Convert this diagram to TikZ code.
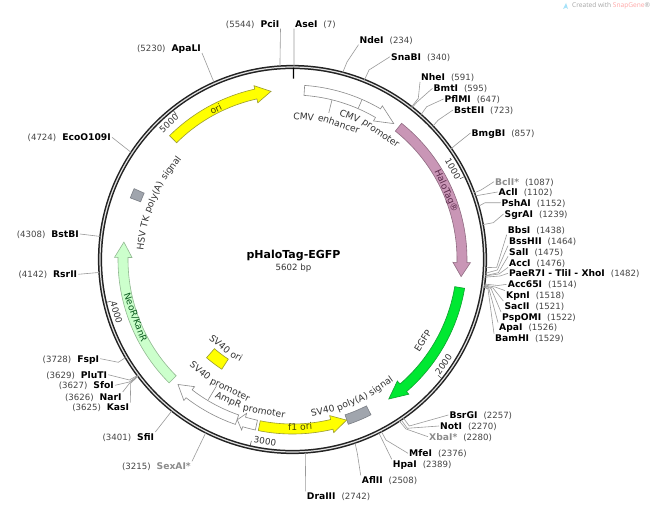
\documentclass[tikz,border=0pt]{standalone}
\usepackage{fontspec}
\setmainfont{DejaVu Sans}
\newfontfamily\sgfont{Open Sans}
\definecolor{ringc}{HTML}{222222}
\definecolor{leadc}{HTML}{9A9A9A}
\definecolor{numc}{HTML}{444444}
\definecolor{grayname}{HTML}{8C8C8C}
\definecolor{ftc}{HTML}{333333}
\definecolor{oriy}{HTML}{FFFF00}
\definecolor{orib}{HTML}{9A9A30}
\definecolor{orit}{HTML}{4A4A08}
\definecolor{halo}{HTML}{C996B6}
\definecolor{halob}{HTML}{8E6A80}
\definecolor{halot}{HTML}{5A2A4A}
\definecolor{egfp}{HTML}{00E832}
\definecolor{egfpb}{HTML}{10A030}
\definecolor{neo}{HTML}{CCFFCC}
\definecolor{neob}{HTML}{90B890}
\definecolor{neot}{HTML}{0A5A1E}
\definecolor{wb}{HTML}{8A8A8A}
\definecolor{polya}{HTML}{A0A5AD}
\definecolor{polyb}{HTML}{7A7E85}
\newcommand\namef{\fontsize{9.2}{11}\selectfont\bfseries}
\newcommand\numf{\fontsize{8.6}{11}\selectfont\mdseries\color{numc}}
\newcommand\featf{\fontsize{9.2}{11}\selectfont}
\newlength\wordw
\newdimen\arcpos
\newcommand\measureword[1]{\settowidth\wordw{\pgfinterruptpicture\featf #1\endpgfinterruptpicture}}
\tikzset{
  ctr/.style={shift={(292.5,259.5)}},
  leader/.style={draw=leadc,line width=0.6pt,line join=round},
  sitelabel/.style={inner sep=1pt,text height=7pt,text depth=0pt},
  ticklabel/.style={inner sep=0pt,font=\fontsize{8.8}{10}\selectfont,text=ftc},
  tickmark/.style={draw=numc,line width=0.5pt},
  feature/.style={line width=0.6pt,line join=miter},
  arcword/.style={inner sep=0pt,anchor=base,font=\featf}
}
% right-hand site: name then number, anchored west
\newcommand\siteR[8][black]{%
  \coordinate (R-#2) at ([ctr]#3/5602*360-90:193.5);
  \node[sitelabel,anchor=west] (L-#2) at (#6,#7) {{\namef\color{#1}#4}\hspace{6pt}{\numf(#5)}};
  \draw[leader] (R-#2) #8;
}
% left-hand site: number then name, anchored east
\newcommand\siteL[8][black]{%
  \coordinate (R-#2) at ([ctr]#3/5602*360-90:193.5);
  \node[sitelabel,anchor=east] (L-#2) at (#6,#7) {{\numf(#5)}\hspace{6pt}{\namef\color{#1}#4}};
  \draw[leader] (R-#2) #8;
}
% block arrow: tail angle, head base, tip (clockwise degrees from top)
\newcommand\blockarrow[5]{%
  \draw[feature,fill=#4,draw=#5]
    plot[domain=#1:#2,samples=40] (\x-90:174.5)
    -- (#2-90:178) -- (#3-90:169.5) -- (#2-90:160.5) -- (#2-90:164.5)
    -- plot[domain=#2:#1,samples=40] (\x-90:164.5) -- cycle;
}
% plain block
\newcommand\blockbox[6]{%
  \draw[feature,fill=#5,draw=#6]
    plot[domain=#1:#2,samples=10] (\x-90:#4)
    -- plot[domain=#2:#1,samples=10] (\x-90:#3) -- cycle;
}
% words set round an arc: id, centre angle, baseline radius, direction (1 clockwise, -1 anticlockwise), word list
\newcommand\arcwords[6][ftc]{%
  \global\arcpos=-3.2pt
  \foreach \w in {#6}{%
    \measureword{\w}%
    \global\advance\arcpos by\wordw
    \global\advance\arcpos by3.2pt
  }%
  \global\arcpos=-0.5\arcpos
  \foreach \w [count=\wi] in {#6}{%
    \measureword{\w}%
    \pgfmathsetmacro\wang{#3+(#5)*(\arcpos+0.5*\wordw)/(#4)*57.29578}%
    \pgfmathsetmacro\wrot{(#5)>0 ? -(\wang) : 180-(\wang)}%
    \node[arcword,text=#1,rotate=\wrot] (#2-\wi) at (\wang-90:#4) {\w};
    \global\advance\arcpos by\wordw
    \global\advance\arcpos by3.2pt
  }%
}
\begin{document}
\begin{tikzpicture}[x=1pt,y=-1pt]
\useasboundingbox (0,0) rectangle (650,508);
\fill[white] (0,0) rectangle (650,508);

% watermark
\fill[cyan!35] (563,9) -- (566,3) -- (568,9) -- (566,7.5) -- cycle;
\node[inner sep=0pt,anchor=west,font=\sgfont\fontsize{6.6}{8}\selectfont] (credit) at (572,6)
  {\textcolor{black!35}{Created with }\textcolor{red!35}{SnapGene}\textcolor{black!35}{®}};

% backbone
\coordinate (C) at (292.5,259.5);
\draw[ringc,line width=4.2pt] (C) circle[radius=192.5pt];
\draw[black!12,line width=1.2pt] (C) circle[radius=192.5pt];

\begin{scope}[ctr]
% origin tick
\draw[black,line width=1.4pt] (0.3-90:181) -- (0.3-90:192);
% scale ticks
\foreach \b in {1000,2000,3000,4000,5000}{
  \draw[tickmark] (\b/5602*360-90:186) -- (\b/5602*360-90:190.5);
}
% features
\blockarrow{-44.8}{-12.5}{-7.3}{oriy}{orib}
\blockarrow{4}{30.3}{36.7}{white}{wb}
\draw[wb,line width=0.6pt] (23.5-90:164.5) -- (23.5-90:174.5);
\draw[wb,line width=0.6pt] (13.9-90:164.5) -- (13.9-90:151);
\blockarrow{38.7}{91}{95.8}{halo}{halob}
\blockarrow{99.5}{139.2}{145.4}{egfp}{egfpb}
\blockbox{153.2}{161.3}{164}{174}{polya}{polyb}
\blockarrow{191.3}{166.6}{161.4}{oriy}{orib}
\blockarrow{192.3}{196.6}{199}{white}{wb}
\blockarrow{199.1}{217.6}{222.5}{white}{wb}
\draw[wb,line width=0.6pt] (211-90:163.5) -- (211-90:148);
\blockbox{212.8}{221.2}{118.5}{130.5}{oriy}{orib}
\blockarrow{225}{270.7}{275.9}{neo}{neob}
\blockbox{290.8}{294.1}{162.5}{173.5}{polya}{polyb}
% feature texts
\arcwords{enh}{14}{140}{1}{CMV,enhancer}
\arcwords{pro}{30.5}{151}{1}{CMV,promoter}
\arcwords[orit]{ori}{-27}{165.5}{1}{ori}
\arcwords[halot]{hal}{66}{165.5}{1}{HaloTag®}
\arcwords{egf}{122}{157}{-1}{EGFP}
\arcwords{pol}{156.6}{157.5}{-1}{SV40,poly(A),signal}
\arcwords[orit]{fon}{177.4}{171}{-1}{f1,ori}
\arcwords{amp}{196.2}{157.5}{-1}{AmpR,promoter}
\arcwords{spr}{210.8}{147.5}{-1}{SV40,promoter}
\arcwords{sor}{216.8}{115}{-1}{SV40,ori}
\arcwords[neot]{neo}{249.8}{170.5}{-1}{NeoR/KanR}
\arcwords{hsv}{292.9}{149}{1}{HSV,TK,poly(A),signal}
\end{scope}

% scale numbers
\node[ticklabel,rotate=-60.6] (t1000) at ([ctr]60.6-90:184) {1000};
\node[ticklabel,rotate=55.2] (t2000) at ([ctr]124.8-90:184) {2000};
\node[ticklabel,rotate=-8.6] (t3000) at ([ctr]188.6-90:184) {3000};
\node[ticklabel,rotate=-73.2] (t4000) at ([ctr]253.2-90:184) {4000};
\node[ticklabel,rotate=42.2] (t5000) at ([ctr]317.8-90:184) {5000};

% title
\node[inner sep=0pt,font=\fontsize{11}{13}\selectfont\bfseries] (title) at (293.5,255.5) {pHaloTag-EGFP};
\node[inner sep=0pt,font=\fontsize{8.6}{10}\selectfont,text=ftc] (size) at (293.5,268) {5602 bp};

% restriction sites
\siteL{pci}{5544}{PciI}{5544}{280.5}{24}{-- (L-pci.south east)}
\siteR{ase}{7}{AseI}{7}{294}{24}{-- (L-ase.south west)}
\siteR{nde}{234}{NdeI}{234}{358.5}{40}{-- (347,62) -- (L-nde.south west)}
\siteR{sna}{340}{SnaBI}{340}{390}{56.7}{-- (369,70) -- (L-sna.west)}
\siteR{nhe}{591}{NheI}{591}{420}{77.3}{-- (418.3,98.3) -- (L-nhe.south west)}
\siteR{bmt}{595}{BmtI}{595}{432.5}{88.3}{-- (417,102) -- (L-bmt.west)}
\siteR{pfl}{647}{PflMI}{647}{443.5}{99}{-- (426.7,106.7) -- (L-pfl.west)}
\siteR{bst}{723}{BstEII}{723}{453}{110}{-- (438.3,120) -- (L-bst.west)}
\siteR{bmg}{857}{BmgBI}{857}{470.5}{133}{-- (456.7,144) -- (L-bmg.west)}
\siteR[grayname]{bcl}{1087}{BclI*}{1087}{494}{181.7}{-- (481,190) -- (L-bcl.west)}
\siteR{acl}{1102}{AclI}{1102}{497.5}{192}{-- (L-acl.west)}
\siteR{psh}{1152}{PshAI}{1152}{500.5}{202.7}{-- (485,202.7) -- (L-psh.west)}
\siteR{sgr}{1239}{SgrAI}{1239}{503.5}{214}{-- (493.3,222.7) -- (L-sgr.west)}
\siteR{bbs}{1438}{BbsI}{1438}{506.7}{230}{-- (496.7,267.3) -- (L-bbs.south west)}
\siteR{bsh}{1464}{BssHII}{1464}{508}{241}{-- (497.3,270) -- (L-bsh.south west)}
\siteR{sal}{1475}{SalI}{1475}{508}{251.7}{-- (498.3,272.7) -- (L-sal.south west)}
\siteR{acc}{1476}{AccI}{1476}{508}{262.7}{-- (499,274) -- (L-acc.south west)}
\siteR{pae}{1482}{PaeR7I - TliI - XhoI}{1482}{508}{273.3}{-- (500,276) -- (L-pae.west)}
\siteR{a65}{1514}{Acc65I}{1514}{506.7}{284.3}{-- (498,285.5) -- (L-a65.west)}
\siteR{kpn}{1518}{KpnI}{1518}{505}{295.3}{-- (495,287) -- (L-kpn.north west)}
\siteR{sac}{1521}{SacII}{1521}{503.3}{305.7}{-- (493,288) -- (L-sac.north west)}
\siteR{psp}{1522}{PspOMI}{1522}{501}{316.7}{-- (491,288.5) -- (L-psp.north west)}
\siteR{apa}{1526}{ApaI}{1526}{498}{327.3}{-- (489,289) -- (L-apa.north west)}
\siteR{bam}{1529}{BamHI}{1529}{494}{338.3}{-- (488,289) -- (L-bam.north west)}
\siteR{bsr}{2257}{BsrGI}{2257}{448.3}{415}{-- (409.3,426) -- (L-bsr.west)}
\siteR{not}{2270}{NotI}{2270}{439}{426}{-- (407.3,428.3) -- (L-not.west)}
\siteR[grayname]{xba}{2280}{XbaI*}{2280}{428}{436.7}{-- (406,429) -- (L-xba.west)}
\siteR{mfe}{2376}{MfeI}{2376}{408}{453.3}{-- (386,440) -- (L-mfe.west)}
\siteR{hpa}{2389}{HpaI}{2389}{391.7}{464}{-- (L-hpa.north west)}
\siteR{afl}{2508}{AflII}{2508}{360.7}{480}{-- (357.3,453.3) -- (L-afl.north west)}
\siteR{dra}{2742}{DraIII}{2742}{305.7}{496}{-- (L-dra.north west)}
\siteL[grayname]{sex}{3215}{SexAI*}{3215}{192}{466}{-- (L-sex.north east)}
\siteL{sfi}{3401}{SfiI}{3401}{155.3}{436.7}{-- (L-sfi.north east)}
\siteL{kas}{3625}{KasI}{3625}{130.3}{407.3}{-- (130.7,383.3) -- (L-kas.north east)}
\siteL{nar}{3626}{NarI}{3626}{122.7}{396.7}{-- (129.7,383) -- (L-nar.north east)}
\siteL{sfo}{3627}{SfoI}{3627}{115}{385.3}{-- (129.3,382) -- (L-sfo.east)}
\siteL{plu}{3629}{PluTI}{3629}{108.3}{374.7}{-- (129.3,380) -- (L-plu.east)}
\siteL{fsp}{3728}{FspI}{3728}{100.3}{358.7}{-- (118.3,362.3) -- (L-fsp.east)}
\siteL{rsr}{4142}{RsrII}{4142}{78.3}{274.3}{-- (L-rsr.east)}
\siteL{bbi}{4308}{BstBI}{4308}{80}{234}{-- (L-bbi.east)}
\siteL{eco}{4724}{EcoO109I}{4724}{112}{137.3}{-- (L-eco.east)}
\siteL{apl}{5230}{ApaLI}{5230}{202}{48.3}{-- (L-apl.south east)}
\end{tikzpicture}
\end{document}
